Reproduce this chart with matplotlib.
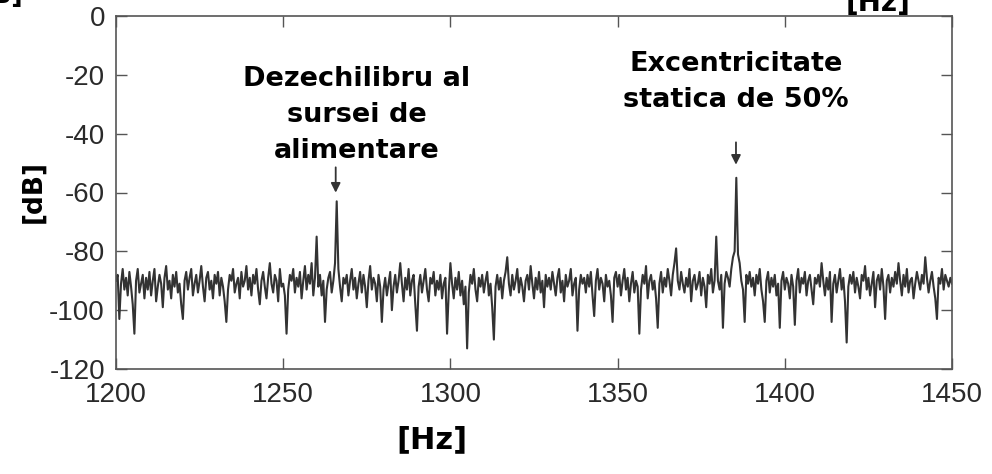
import numpy as np
import matplotlib.pyplot as plt

# spectrum, 0.5 Hz step from 1200 Hz
freq_start = 1200
freq_step = 0.5
level_db = [
    -90, -88, -103, -91, -86, -93, -89, -95, -87, -92, -98, -108, -90, -86, -94, -91, -88, -96, -89, -93,
    -87, -95, -90, -86, -97, -92, -88, -91, -99, -89, -85, -93, -90, -96, -88, -92, -87, -94, -91, -98,
    -103, -90, -87, -93, -89, -86, -95, -91, -88, -94, -90, -85, -92, -97, -89, -87, -93, -90, -96, -88,
    -91, -87, -95, -89, -92, -97, -104, -93, -88, -90, -86, -94, -91, -89, -96, -87, -92, -90, -85, -93,
    -89, -95, -88, -91, -86, -93, -98, -90, -87, -92, -96, -89, -84, -91, -94, -88, -90, -97, -86, -92,
    -91, -95, -108, -93, -88, -90, -86, -94, -89, -92, -87, -96, -90, -85, -93, -88, -91, -84, -95, -89,
    -75, -92, -88, -95, -90, -104, -93, -89, -87, -94, -90, -84, -63, -86, -92, -97, -89, -91, -88, -95,
    -90, -86, -93, -89, -96, -91, -87, -94, -88, -92, -99, -90, -85, -93, -89, -91, -97, -88, -92, -104,
    -93, -89, -95, -91, -87, -100, -92, -88, -94, -90, -84, -91, -97, -89, -93, -86, -95, -90, -88, -98,
    -107, -92, -88, -94, -90, -86, -93, -97, -89, -91, -87, -95, -90, -93, -88, -96, -91, -89, -108, -94,
    -84, -91, -96, -89, -93, -87, -95, -90, -98, -92, -113, -94, -88, -91, -86, -93, -97, -89, -92, -88,
    -94, -90, -87, -95, -91, -99, -110, -92, -88, -93, -89, -96, -90, -87, -82, -91, -95, -88, -93, -90,
    -86, -94, -89, -92, -97, -90, -88, -93, -85, -91, -96, -89, -93, -87, -94, -90, -99, -88, -92, -89,
    -93, -87, -91, -95, -89, -86, -94, -90, -97, -88, -92, -90, -86, -95, -91, -89, -107, -93, -88, -91,
    -89, -94, -88, -92, -87, -95, -102, -90, -86, -93, -89, -91, -97, -88, -92, -90, -95, -104, -89, -87,
    -92, -88, -95, -90, -86, -93, -89, -97, -91, -87, -94, -90, -92, -108, -93, -88, -91, -85, -96, -90,
    -88, -93, -90, -96, -106, -91, -87, -94, -89, -92, -86, -90, -95, -88, -84, -79, -90, -93, -87, -91,
    -94, -89, -92, -86, -97, -90, -88, -93, -91, -87, -95, -89, -92, -99, -88, -91, -86, -94, -90, -75,
    -90, -93, -88, -106, -91, -87, -89, -92, -86, -82, -80, -55, -81, -84, -90, -93, -104, -88, -91, -87,
    -92, -89, -95, -88, -91, -86, -93, -97, -104, -90, -87, -94, -89, -92, -88, -95, -91, -106, -90, -87,
    -93, -89, -91, -96, -88, -92, -105, -90, -86, -94, -89, -91, -87, -95, -90, -88, -93, -98, -89, -91,
    -88, -92, -84, -90, -95, -89, -93, -87, -104, -91, -88, -94, -90, -86, -93, -89, -97, -111, -92, -88,
    -91, -87, -94, -89, -92, -96, -88, -90, -85, -93, -89, -95, -91, -87, -99, -90, -88, -93, -86, -92,
    -103, -90, -88, -94, -89, -92, -87, -91, -84, -90, -95, -88, -92, -86, -94, -90, -89, -96, -91, -87,
    -90, -93, -88, -91, -82, -89, -94, -90, -87, -92, -96, -103, -89, -91, -86, -93, -88, -90, -92, -89,
    -91,
]
freq = freq_start + freq_step * np.arange(len(level_db))

x_ticks = [1200, 1250, 1300, 1350, 1400, 1450]
y_ticks = [0, -20, -40, -60, -80, -100, -120]

notes = ["Dezechilibru al\nsursei de\nalimentare", "Excentricitate\nstatica de 50%"]
note_pos = [(1272, -33.5), (1385.4, -22.3)]
arrow_from = [(1265.7, -50.5), (1385.4, -42)]
arrow_to = [(1265.7, -61), (1385.4, -51.5)]

tick_font = ['Liberation Sans Narrow', 'Liberation Sans', 'DejaVu Sans']
label_font = ['DejaVu Sans']

fig = plt.figure(figsize=(9.92, 4.74), dpi=100)
ax = fig.add_axes([116/992, 1 - 369/474, (952-116)/992, (369-16)/474])

ax.plot(freq, level_db, color='#333333', lw=1.5)

ax.set_xlim(1200, 1450)
ax.set_ylim(-120, 0)
ax.set_xticks(x_ticks)
ax.set_yticks(y_ticks)
ax.set_xticklabels([str(t) for t in x_ticks], family=tick_font, fontsize=20, color='#2a2a2a')
ax.set_yticklabels([str(t) for t in y_ticks], family=tick_font, fontsize=20, color='#2a2a2a')
ax.tick_params(direction='in', top=True, right=True, length=8, width=1, color='#555555')
ax.tick_params(axis='x', pad=9)
ax.tick_params(axis='y', pad=8)
for s in ax.spines.values():
    s.set_color('#555555')
    s.set_linewidth(1.2)

for txt, pos, a, b in zip(notes, note_pos, arrow_from, arrow_to):
    ax.text(pos[0], pos[1], txt, ha='center', va='center', fontsize=19.5, fontweight='bold',
            family=label_font, linespacing=1.5, color='black')
    ax.annotate('', xy=b, xytext=a,
                arrowprops=dict(arrowstyle='-|>', color='#333333', lw=1.3, mutation_scale=14))

fig.text(432/992, 1 - 440/474, '[Hz]', ha='center', va='center', fontsize=22, fontweight='bold',
         family=label_font)
fig.text(33/992, 1 - 192/474, '[dB]', ha='center', va='center', rotation=90, fontsize=19,
         fontweight='bold', family=label_font)
# labels cut off at the top edge of the original picture
fig.text(878/992, 1 - 11/474, '[Hz]', ha='center', va='baseline', fontsize=20, fontweight='bold',
         family=label_font)
fig.text(24/992, 1 - 3/474, '[dB]', ha='right', va='baseline', fontsize=18, fontweight='bold',
         family=label_font)

fig.savefig('out.png', dpi=100, facecolor='white')
